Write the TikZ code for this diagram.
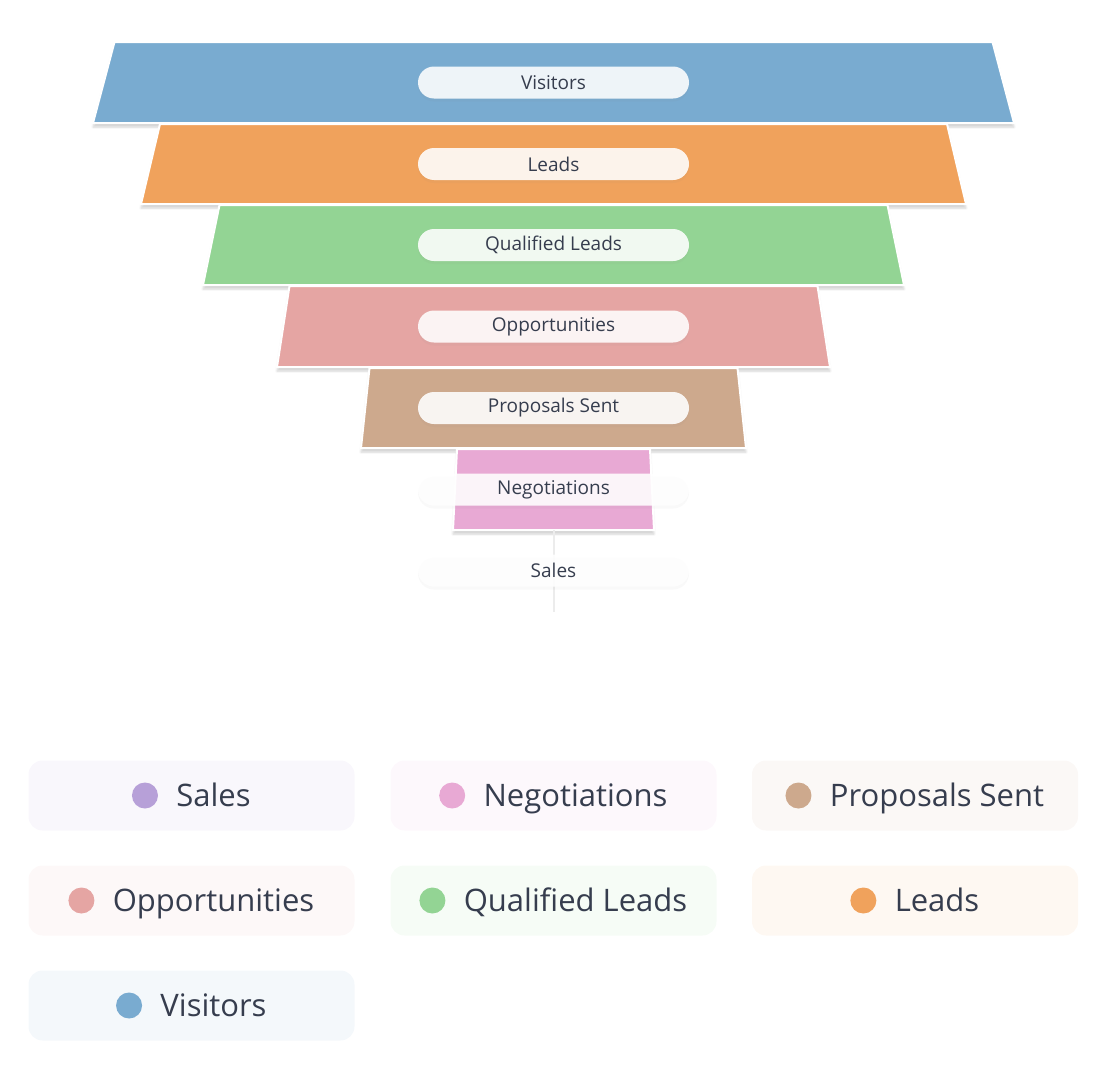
\documentclass[tikz,border=0pt]{standalone}
\usepackage{fontspec}
\setmainfont{Open Sans}
\usetikzlibrary{positioning,shadows,shadows.blur}
\definecolor{cVis}{HTML}{79ABD0}
\definecolor{cLea}{HTML}{F0A25C}
\definecolor{cQua}{HTML}{93D494}
\definecolor{cOpp}{HTML}{E5A5A3}
\definecolor{cPro}{HTML}{CDA98D}
\definecolor{cNeg}{HTML}{E8A9D4}
\definecolor{cSal}{HTML}{B7A0D8}
\definecolor{ink}{HTML}{363D4E}

\begin{document}
\begin{tikzpicture}[x=1pt,y=-1pt,
    stage/.style={draw=white,line width=2pt,line join=miter,
        blur shadow={shadow xshift=0pt,shadow yshift=-4pt,shadow blur steps=6,shadow opacity=18}},
    pill/.style={rounded corners=16pt,fill=white,fill opacity=0.88,text opacity=1,
        minimum width=271pt,minimum height=32pt,inner sep=0pt,text=ink,
        font=\fontsize{19}{22}\selectfont,
        drop shadow={opacity=0.05,shadow xshift=0pt,shadow yshift=-3pt}},
    legbox/.style={rounded corners=14pt,minimum width=326pt,minimum height=70pt},
    legtext/.style={text=ink,font=\fontsize{31}{36}\selectfont,inner sep=0pt,anchor=base},
    legdot/.style={circle,minimum size=26pt,inner sep=0pt}]
    \useasboundingbox (0,0) rectangle (1108,1076);

    % funnel stages
    \foreach \col/\ya/\yb/\ta/\ba in {cVis/42/123/439/460.5, cLea/124/204/393.5/412.5,
        cQua/205/285/334/350.5, cOpp/286/367/264/276.5, cPro/368/448/184/192.5,
        cNeg/449/530/96.5/100.5}
        \filldraw[stage,fill=\col] (553.5-\ta,\ya) -- (553.5+\ta,\ya) -- (553.5+\ba,\yb) -- (553.5-\ba,\yb) -- cycle;
    \draw[gray!15,line width=2pt] (553.5,530) -- (553.5,612); % Sales

    % stage labels
    \foreach \key/\name/\y in {vis/Visitors/82.5, lea/Leads/164, qua/Qualified Leads/245,
        opp/Opportunities/326.5, pro/Proposals Sent/408, neg/Negotiations/489.5, sal/Sales/570.5}
        \node[pill] (p\key) at (553.5,\y) {\name};

    % legend
    \foreach \key/\name/\col/\cx/\cy in {sal/Sales/cSal/191.5/795.5, neg/Negotiations/cNeg/553.5/795.5,
        pro/Proposals Sent/cPro/915/795.5, opp/Opportunities/cOpp/191.5/900.5,
        qua/Qualified Leads/cQua/553.5/900.5, lea/Leads/cLea/915/900.5, vis/Visitors/cVis/191.5/1005.5}
    {
        \node[legbox,fill=\col!8] (box\key) at (\cx,\cy) {};
        \node[legtext] (txt\key) at (\cx+22,\cy+11) {\name};
        \coordinate (mk\key) at (txt\key.west |- box\key.center);
        \node[legdot,fill=\col,left=18pt of mk\key] (dot\key) {};
    }
\end{tikzpicture}
\end{document}
